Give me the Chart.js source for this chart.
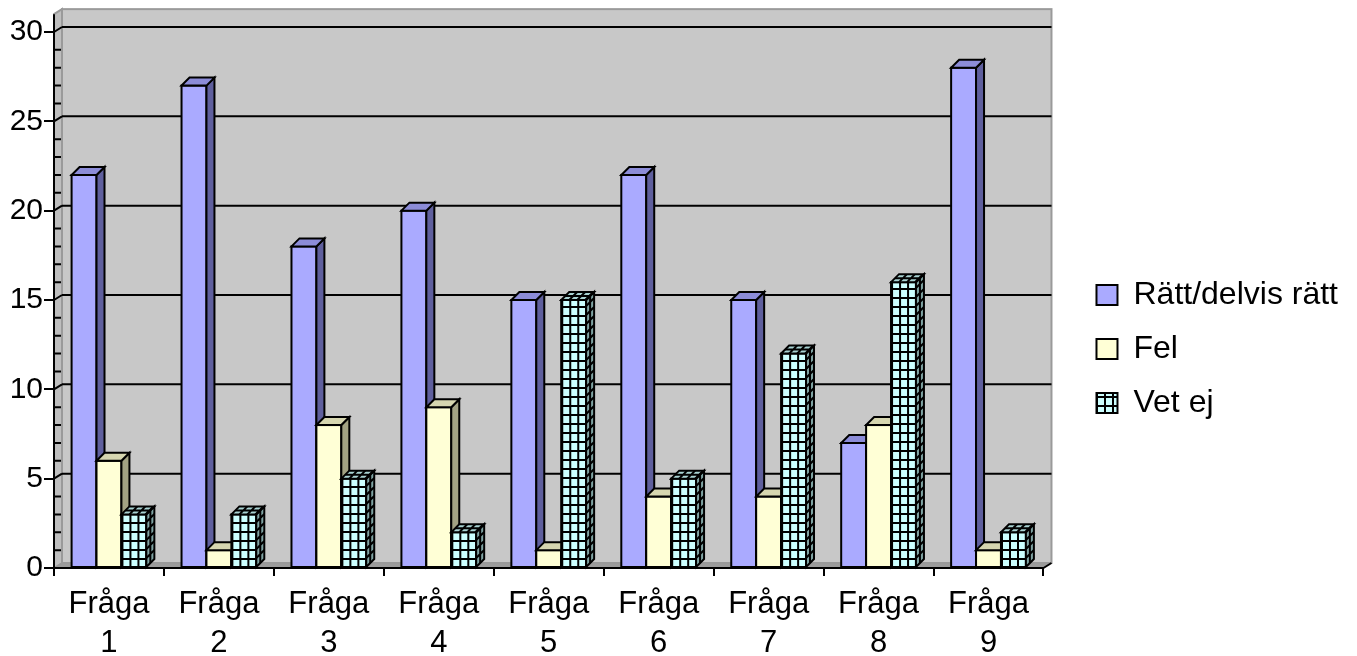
<!DOCTYPE html>
<html lang="sv">
<head>
<meta charset="utf-8">
<title>Svar per fråga</title>
<script src="https://cdn.jsdelivr.net/npm/chart.js@4.4.1/dist/chart.umd.min.js"></script>
<style>
  html, body { margin: 0; padding: 0; background: #ffffff; }
  #wrap { position: relative; width: 1357px; height: 656px; }
</style>
</head>
<body>
<div id="wrap"><canvas id="chart"></canvas></div>
<script>
// ---- data ----
const questions   = ['Fråga 1', 'Fråga 2', 'Fråga 3', 'Fråga 4', 'Fråga 5', 'Fråga 6', 'Fråga 7', 'Fråga 8', 'Fråga 9'];
const rattValues  = [22, 27, 18, 20, 15, 22, 15, 7, 28];
const felValues   = [6, 1, 8, 9, 1, 4, 4, 8, 1];
const vetEjValues = [3, 3, 5, 2, 15, 5, 12, 16, 2];
const seriesNames = ['Rätt/delvis rätt', 'Fel', 'Vet ej'];
const yTickValues = [0, 5, 10, 15, 20, 25, 30];

// ---- look ----
const FONT = "'Liberation Sans', Arial, Helvetica, sans-serif";
const BAR_DEPTH = { dx: 8, dy: -8 };           // receding edge of each column
const WALL = { dx: 8, dy: -5, extra: 1 };       // back wall offset and height above the top tick
const LEGEND_NUDGE = { x: 31, y: 5 };
const yMin = yTickValues[0];
const yMax = yTickValues[yTickValues.length - 1];
const yStep = yTickValues[1] - yTickValues[0];

const canvas = document.getElementById('chart');
const ctx2d = canvas.getContext('2d');

function makeGridPattern(ctx, bg, w, h) {
  const tile = document.createElement('canvas');
  tile.width = w; tile.height = h;
  const t = tile.getContext('2d');
  t.fillStyle = bg; t.fillRect(0, 0, w, h);
  t.fillStyle = '#000000';
  t.fillRect(0, 0, w, 2);
  t.fillRect(0, 0, 2, h);
  return ctx.createPattern(tile, 'repeat');
}

const CELL_W = 8, CELL_H = 9;
const vetEjPattern = makeGridPattern(ctx2d, '#CCFFFF', CELL_W, CELL_H);

const faceStyles = [
  { front: '#AAAAFF', side: '#5F5F9D', top: '#8C8CD8', grid: false },
  { front: '#FFFFD6', side: '#A2A283', top: '#D6D6B0', grid: false },
  { front: vetEjPattern, side: '#7FA3A3', top: '#A8D2D2', grid: true }
];

function tracePoly(ctx, pts) {
  ctx.beginPath();
  pts.forEach((p, i) => (i ? ctx.lineTo(p[0], p[1]) : ctx.moveTo(p[0], p[1])));
  ctx.closePath();
}

// parallelogram from origin o spanned by u and v, optional cell lines
function drawFace(ctx, o, u, v, fill, grid) {
  const pts = [
    [o[0], o[1]],
    [o[0] + u[0], o[1] + u[1]],
    [o[0] + u[0] + v[0], o[1] + u[1] + v[1]],
    [o[0] + v[0], o[1] + v[1]]
  ];
  ctx.save();
  tracePoly(ctx, pts);
  ctx.fillStyle = fill;
  ctx.fill();
  if (grid) {
    ctx.save();
    ctx.clip();
    ctx.beginPath();
    for (let s = grid.u; s < 1 - 1e-6; s += grid.u) {
      const a = [o[0] + u[0] * s, o[1] + u[1] * s];
      ctx.moveTo(a[0], a[1]);
      ctx.lineTo(a[0] + v[0], a[1] + v[1]);
    }
    for (let s = grid.v; s < 1 - 1e-6; s += grid.v) {
      const a = [o[0] + v[0] * s, o[1] + v[1] * s];
      ctx.moveTo(a[0], a[1]);
      ctx.lineTo(a[0] + u[0], a[1] + u[1]);
    }
    ctx.lineWidth = 2;
    ctx.strokeStyle = '#000000';
    ctx.stroke();
    ctx.restore();
  }
  tracePoly(ctx, pts);
  ctx.lineWidth = 2;
  ctx.strokeStyle = '#000000';
  ctx.lineJoin = 'miter';
  ctx.stroke();
  ctx.restore();
}

// gray back wall, side wall, floor and horizontal gridlines
const wallPlugin = {
  id: 'wall',
  beforeDraw(chart) {
    const { ctx, chartArea: a, scales: { y } } = chart;
    const L = a.left, R = a.right;
    const B = y.getPixelForValue(yMin);
    const T = y.getPixelForValue(yMax + WALL.extra);
    const dx = WALL.dx, dy = WALL.dy;
    ctx.save();
    // side wall
    tracePoly(ctx, [[L, T], [L + dx, T + dy], [L + dx, B + dy], [L, B]]);
    ctx.fillStyle = '#BEBEBE';
    ctx.fill();
    // back wall
    ctx.fillStyle = '#C8C8C8';
    ctx.fillRect(L + dx, T + dy, R - L, B - T);
    // floor
    tracePoly(ctx, [[L, B], [L + dx, B + dy], [R + dx, B + dy], [R, B]]);
    ctx.fillStyle = '#9C9C9C';
    ctx.fill();
    // wall frame
    ctx.strokeStyle = '#9A9A9A';
    ctx.lineWidth = 2;
    ctx.strokeRect(L + dx, T + dy, R - L, B - T);
    tracePoly(ctx, [[L, T], [L + dx, T + dy], [L + dx, B + dy], [L, B]]);
    ctx.stroke();
    // gridlines on the back wall
    ctx.strokeStyle = '#000000';
    ctx.lineWidth = 2;
    ctx.beginPath();
    y.ticks.forEach(t => {
      if (t.value <= yMin) return;
      const py = y.getPixelForValue(t.value) + dy;
      ctx.moveTo(L + dx, py);
      ctx.lineTo(R + dx, py);
    });
    ctx.stroke();
    ctx.restore();
  }
};

// minor ticks, axis joins and the columns with their depth faces
const columnsPlugin = {
  id: 'columns3d',
  beforeDatasetsDraw(chart) {
    const { ctx, chartArea: a, scales: { y } } = chart;
    const L = a.left, R = a.right;
    const B = y.getPixelForValue(yMin);
    ctx.save();
    ctx.strokeStyle = '#000000';
    ctx.lineWidth = 2;
    ctx.beginPath();
    // value axis continues up to the top of the side wall
    ctx.moveTo(L, y.getPixelForValue(yMax));
    ctx.lineTo(L, y.getPixelForValue(yMax + WALL.extra));
    for (let v = yMin + 1; v <= yMax; v++) {
      const py = y.getPixelForValue(v);
      if (v % yStep === 0) {
        ctx.moveTo(L, py);
        ctx.lineTo(L + WALL.dx, py + WALL.dy);
      } else {
        ctx.moveTo(L, py);
        ctx.lineTo(L + WALL.dx - 1, py);
      }
    }
    // floor edge at the right end of the category axis
    ctx.moveTo(R, B);
    ctx.lineTo(R + WALL.dx, B + WALL.dy);
    ctx.stroke();
    ctx.restore();

    const { dx, dy } = BAR_DEPTH;
    chart.data.datasets.forEach((ds, i) => {
      if (!chart.isDatasetVisible(i)) return;
      const meta = chart.getDatasetMeta(i);
      const st = faceStyles[i];
      meta.data.forEach(el => {
        const { x, y: yy, base, width } = el.getProps(['x', 'y', 'base', 'width'], true);
        const left = x - width / 2, right = x + width / 2;
        const top = Math.min(yy, base), bottom = Math.max(yy, base);
        const h = bottom - top;
        if (st.grid) st.front.setTransform(new DOMMatrix().translate(left, bottom));
        el.draw(ctx, a);
        ctx.save();
        ctx.lineWidth = 2;
        ctx.strokeStyle = '#000000';
        ctx.strokeRect(left, top, width, h);
        ctx.restore();
        drawFace(ctx, [right, bottom], [dx, dy], [0, -h], st.side,
          st.grid && h > 0 ? { u: 0.5, v: CELL_H / h } : null);
        drawFace(ctx, [left, top], [width, 0], [dx, dy], st.top,
          st.grid ? { u: CELL_W / width, v: 0.5 } : null);
      });
    });
    vetEjPattern.setTransform(new DOMMatrix());
    return false;
  }
};

const legendNudge = {
  id: 'legendNudge',
  afterLayout(chart) {
    const lg = chart.legend;
    if (!lg) return;
    lg.left += LEGEND_NUDGE.x; lg.right += LEGEND_NUDGE.x;
    lg.top += LEGEND_NUDGE.y; lg.bottom += LEGEND_NUDGE.y;
  }
};

Chart.defaults.font.family = FONT;
Chart.defaults.color = '#000000';

new Chart(canvas, {
  type: 'bar',
  data: {
    labels: questions.map(q => q.split(' ')),
    datasets: [
      { label: seriesNames[0], data: rattValues },
      { label: seriesNames[1], data: felValues },
      { label: seriesNames[2], data: vetEjValues }
    ].map((d, i) => Object.assign(d, {
      backgroundColor: faceStyles[i].front,
      borderColor: '#000000',
      borderWidth: 0,
      categoryPercentage: 0.68,
      barPercentage: 1.0
    }))
  },
  options: {
    responsive: true,
    maintainAspectRatio: false,
    devicePixelRatio: 1,
    animation: false,
    events: [],
    layout: { padding: { top: 32, right: 40, bottom: 0, left: 0 } },
    plugins: {
      tooltip: { enabled: false },
      legend: {
        position: 'right',
        align: 'center',
        labels: {
          font: { size: 32, family: FONT },
          color: '#000000',
          boxWidth: 21,
          boxHeight: 20,
          padding: 22,
          generateLabels(chart) {
            const items = Chart.defaults.plugins.legend.labels.generateLabels(chart);
            items.forEach(it => { it.lineWidth = 2; it.strokeStyle = '#000000'; });
            return items;
          }
        }
      }
    },
    scales: {
      x: {
        grid: { offset: true, drawOnChartArea: false, drawTicks: true, tickLength: 8, color: '#000000', lineWidth: 2 },
        border: { display: true, color: '#000000', width: 2 },
        ticks: { font: { size: 31, family: FONT, lineHeight: 1.25 }, color: '#000000', padding: 9, maxRotation: 0, autoSkip: false },
        afterFit(scale) { scale.height = 88; }
      },
      y: {
        min: yMin,
        max: yMax,
        ticks: { stepSize: yStep, font: { size: 30, family: FONT }, color: '#000000', padding: 1 },
        grid: { drawOnChartArea: false, drawTicks: true, tickLength: 10, color: '#000000', lineWidth: 2 },
        border: { display: true, color: '#000000', width: 2 },
        afterFit(scale) { scale.width = 54; }
      }
    }
  },
  plugins: [wallPlugin, columnsPlugin, legendNudge]
});
</script>
</body>
</html>
